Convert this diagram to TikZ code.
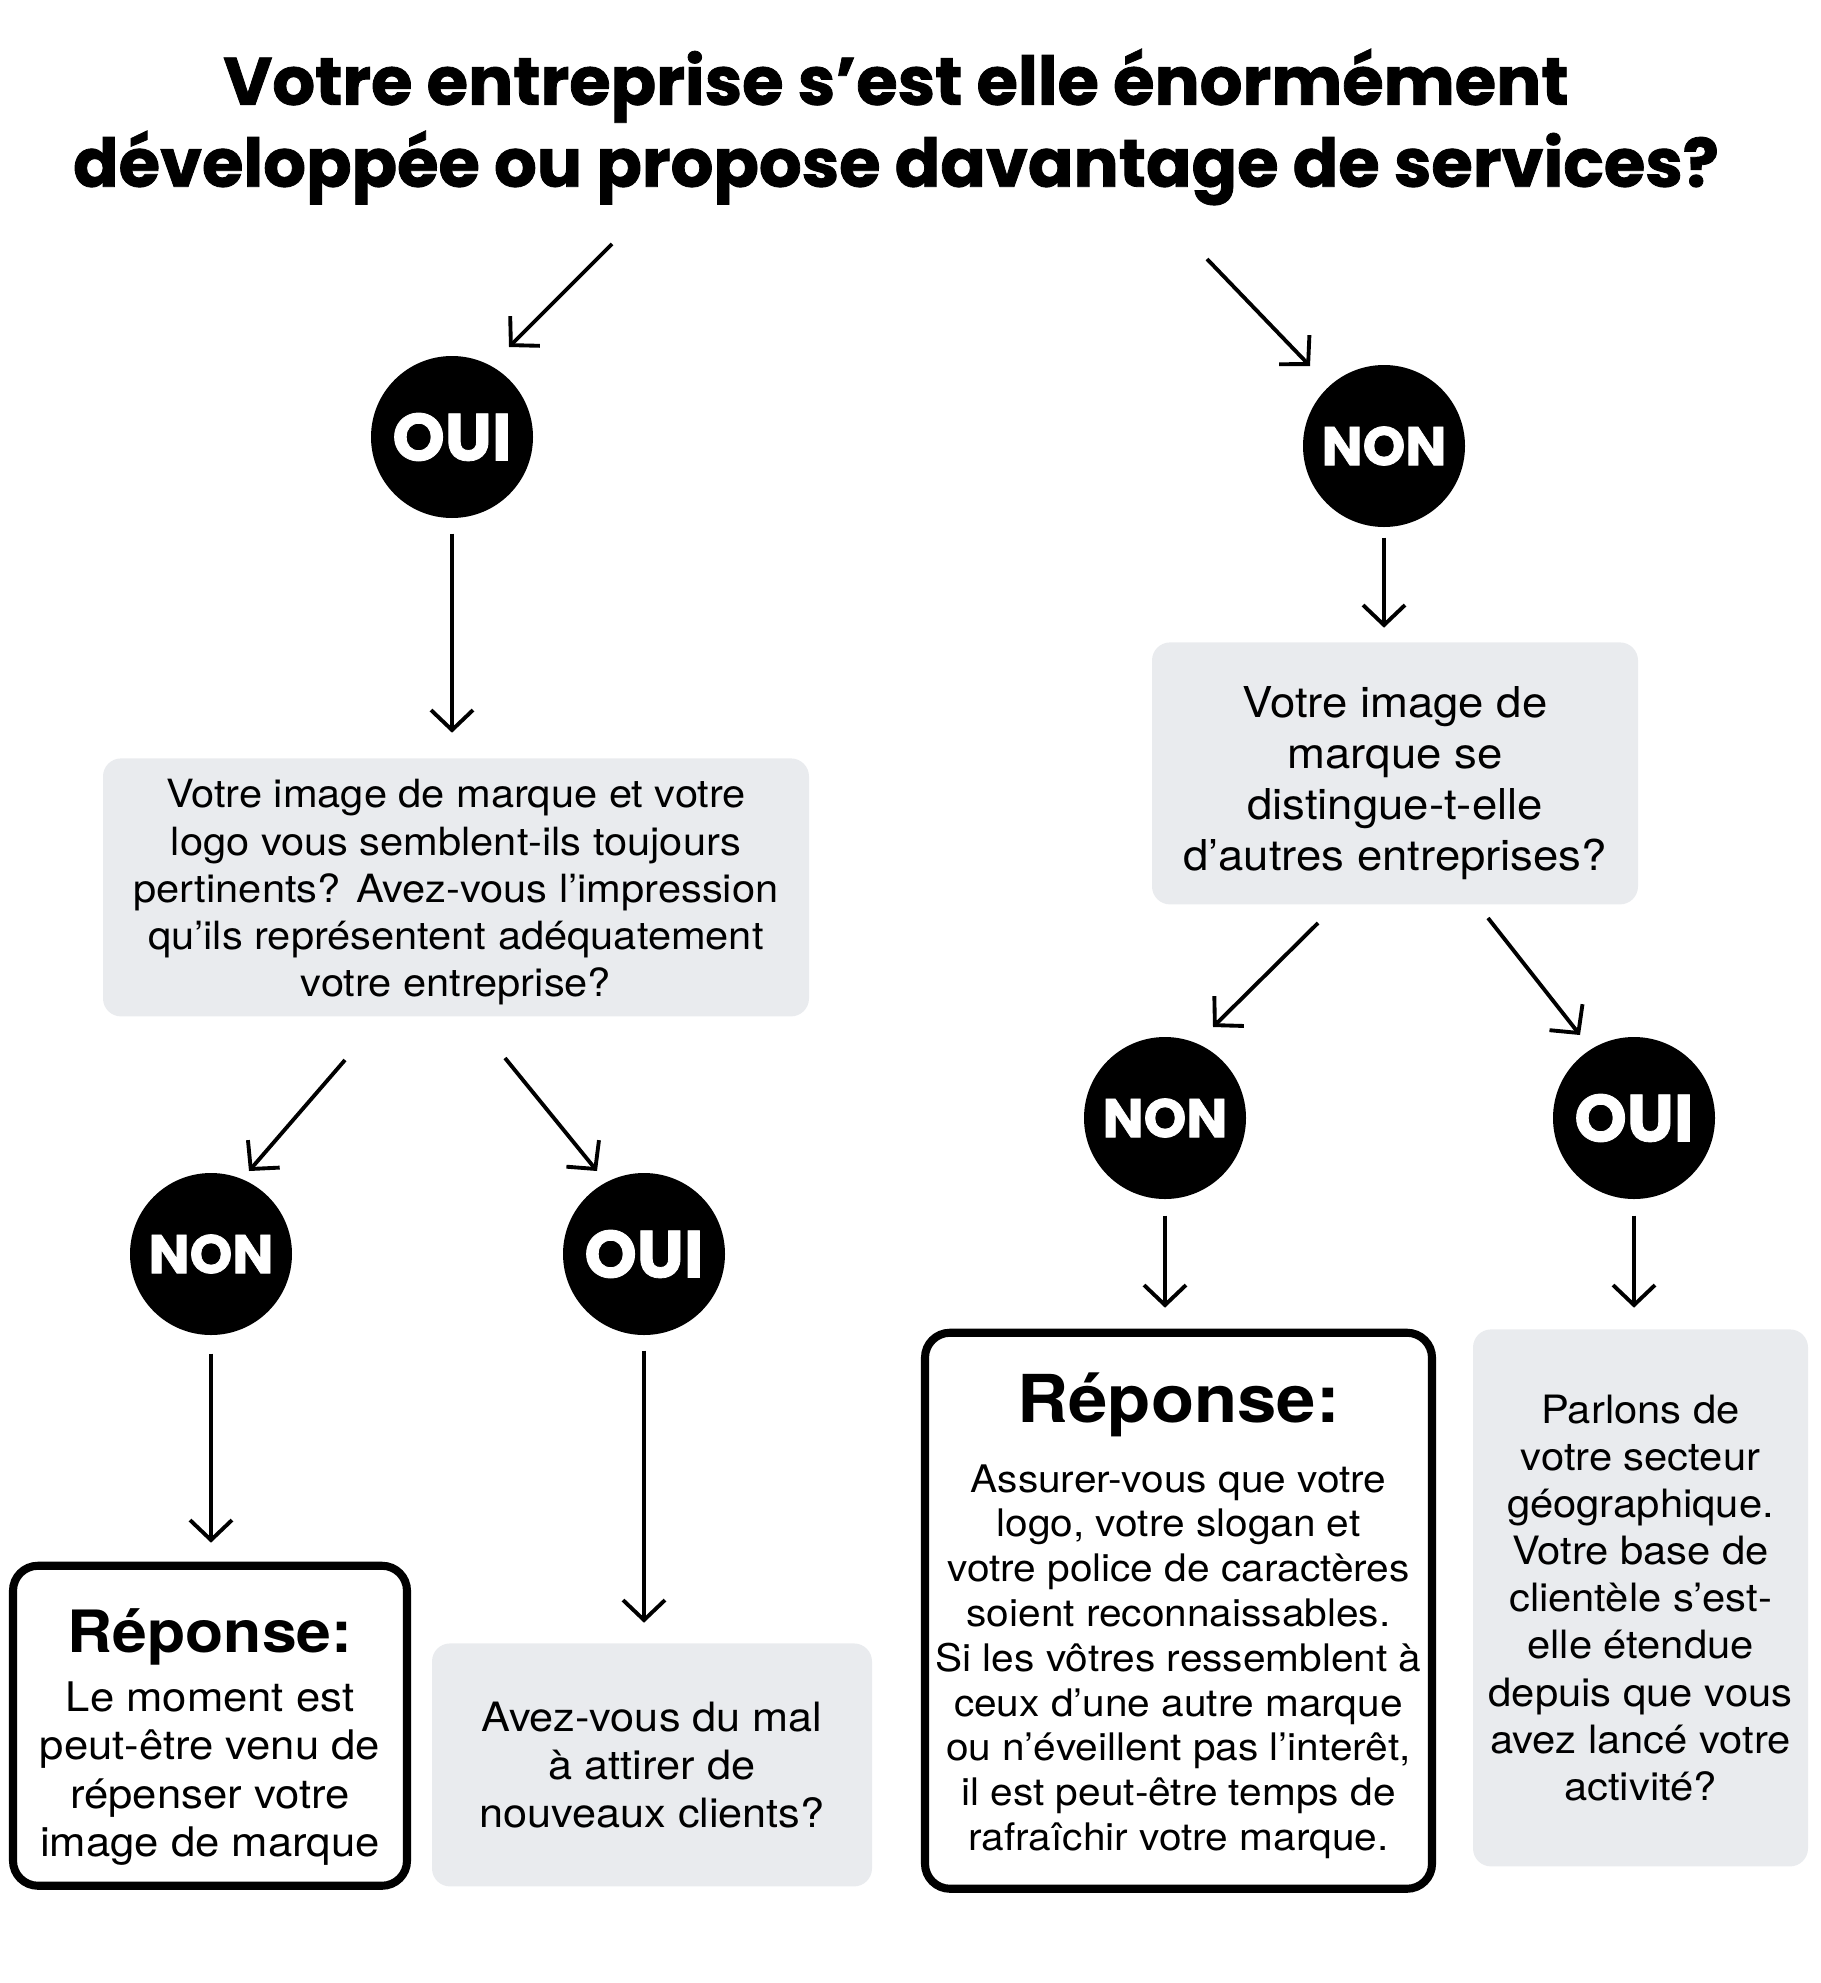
\documentclass[tikz,border=0pt]{standalone}
\usepackage{fontspec}
\setmainfont{TeX Gyre Heros}[FakeStretch=1.07]
\newfontfamily\titlefont{Poppins}[BoldFeatures={FakeBold=1.2}]
\usetikzlibrary{positioning}
\usetikzlibrary{shapes.geometric, arrows.meta, calc}
\definecolor{boxgray}{RGB}{233,235,238}
\tikzstyle{question} = [rectangle, rounded corners=0.18cm, fill=boxgray, text centered, align=center, inner sep=0pt]
\tikzstyle{answer} = [rectangle, rounded corners=0.25cm, draw=black, line width=2.3pt, fill=white, text centered, align=center, inner sep=0pt]
\tikzstyle{choice} = [circle, fill=black, text=white, minimum size=1.62cm, inner sep=0pt, font=\titlefont\bfseries\fontsize{19}{19}\selectfont]
\tikzstyle{arrow} = [line width=1.1pt, -{Straight Barb[length=0.2cm, width=0.42cm]}]

\begin{document}
\begin{tikzpicture}
    \useasboundingbox (0,0) rectangle (18.2,-19.83);

    % Nodes
    \node (title) at (8.96,-1.27) [font=\titlefont\bfseries\fontsize{19.1}{23.3}\selectfont, align=center] {Votre entreprise s’est elle énormément\\développée ou propose davantage de services?};
    \node (oui1) at (4.52,-4.37) [choice] {OUI};
    \node (non1) at (13.84,-4.46) [choice, font=\titlefont\bfseries\fontsize{15.5}{16}\selectfont] {NON};
    \node (q1) [question, minimum width=7.06cm, minimum height=2.58cm, below=2.39cm of oui1, xshift=0.04cm, font=\fontsize{11.06}{13.4}\selectfont] {\rule{0pt}{0.38cm}Votre image de marque et votre\\logo vous semblent-ils toujours\\pertinents? Avez-vous l’impression\\qu’ils représentent adéquatement\\votre entreprise?};
    \node (q2) [question, minimum width=4.86cm, minimum height=2.62cm, below=1.14cm of non1, xshift=0.11cm, font=\fontsize{12.1}{14.5}\selectfont] {\rule{0pt}{0.50cm}Votre image de\\marque se\\distingue-t-elle\\d’autres entreprises?};
    \node (non2) at (2.11,-12.54) [choice, font=\titlefont\bfseries\fontsize{15.5}{16}\selectfont] {NON};
    \node (oui2) at (6.44,-12.54) [choice] {OUI};
    \node (non3) at (11.65,-11.18) [choice, font=\titlefont\bfseries\fontsize{15.5}{16}\selectfont] {NON};
    \node (oui3) at (16.34,-11.18) [choice] {OUI};
    \node (rep1) [answer, minimum width=3.94cm, minimum height=3.20cm, below=2.26cm of non2, xshift=-0.01cm, font=\fontsize{11.6}{13.8}\selectfont] {{\fontsize{16.6}{20}\selectfont\bfseries\rule{0pt}{0.66cm}Réponse:}\\[3pt]Le moment est\\peut-être venu de\\répenser votre\\image de marque};
    \node (mal) [question, minimum width=4.40cm, minimum height=2.43cm, below=3.07cm of oui2, xshift=0.08cm, font=\fontsize{11.5}{13.7}\selectfont] {Avez-vous du mal\\à attirer de\\nouveaux clients?};
    \node (rep2) [answer, minimum width=5.07cm, minimum height=5.56cm, below=1.29cm of non3, xshift=0.135cm, font=\fontsize{10.8}{12.75}\selectfont] {{\fontsize{18.8}{22}\selectfont\bfseries\rule{0pt}{0.60cm}Réponse:}\\[7pt]Assurer-vous que votre\\logo, votre slogan et\\votre police de caractères\\soient reconnaissables.\\Si les vôtres ressemblent à\\ceux d’une autre marque\\ou n’éveillent pas l’interêt,\\il est peut-être temps de\\rafraîchir votre marque.};
    \node (geo) [question, minimum width=3.35cm, minimum height=5.37cm, below=1.29cm of oui3, xshift=0.065cm, font=\fontsize{11.1}{13.4}\selectfont] {Parlons de\\votre secteur\\géographique.\\Votre base de\\clientèle s’est-\\elle étendue\\depuis que vous\\avez lancé votre\\activité?};

    % Arrow ends
    \coordinate (t1) at (6.12,-2.44);
    \coordinate (t1e) at (5.09,-3.47);
    \coordinate (t2) at (12.07,-2.59);
    \coordinate (t2e) at (13.10,-3.66);
    \coordinate (l1) at (3.45,-10.60);
    \coordinate (l1e) at (2.49,-11.71);
    \coordinate (l2) at (5.05,-10.58);
    \coordinate (l2e) at (5.97,-11.71);
    \coordinate (r1) at (13.18,-9.23);
    \coordinate (r1e) at (12.13,-10.27);
    \coordinate (r2) at (14.88,-9.18);
    \coordinate (r2e) at (15.80,-10.35);

    % Arrows
    \draw [arrow] (t1) -- (t1e);
    \draw [arrow] (t2) -- (t2e);
    \draw [arrow, shorten <=0.15cm, shorten >=0.25cm] (oui1.south) -- (oui1.south |- q1.north);
    \draw [arrow, shorten <=0.10cm, shorten >=0.14cm] (non1.south) -- (non1.south |- q2.north);
    \draw [arrow] (l1) -- (l1e);
    \draw [arrow] (l2) -- (l2e);
    \draw [arrow] (r1) -- (r1e);
    \draw [arrow] (r2) -- (r2e);
    \draw [arrow, shorten <=0.18cm, shorten >=0.19cm] (non2.south) -- (non2.south |- rep1.north);
    \draw [arrow, shorten <=0.15cm, shorten >=0.20cm] (oui2.south) -- (oui2.south |- mal.north);
    \draw [arrow, shorten <=0.16cm, shorten >=0.21cm] (non3.south) -- (non3.south |- rep2.north);
    \draw [arrow, shorten <=0.16cm, shorten >=0.21cm] (oui3.south) -- (oui3.south |- geo.north);

\end{tikzpicture}
\end{document}
